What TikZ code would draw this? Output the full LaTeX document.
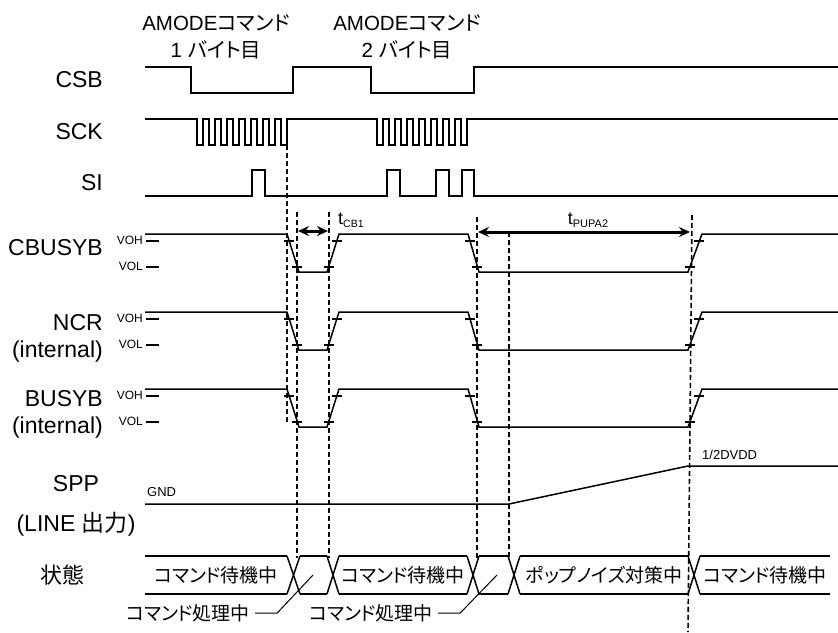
\documentclass[tikz,border=0pt]{standalone}
\usepackage{fontspec}
\setmainfont{Liberation Sans}
\newfontfamily\jp[RawFeature=+palt]{Noto Sans CJK JP}
\usepackage{tikz}
\usetikzlibrary{arrows.meta}

\begin{document}
\begin{tikzpicture}[
                x=1pt, y=-1pt,                % 1px = 1pt
                >={Stealth[length=11pt, width=10pt]},
                sig/.style={line width=1.5pt},
                guide/.style={line width=1.6pt, dash pattern=on 5pt off 3pt},
                dim/.style={<->, line width=3pt},
                lbl/.style={font=\fontsize{23}{27}\selectfont, inner sep=0pt},
                lvl/.style={font=\fontsize{12}{12}\selectfont, inner sep=0pt, anchor=east},
                jtxt/.style={font=\jp\fontsize{19}{20}\selectfont, inner sep=0pt},
                head/.style={font=\fontsize{20.5}{27}\selectfont, align=center, inner sep=0pt}
            ]
                \useasboundingbox (0,0) rectangle (838,632);

                % 見出し
                \node[head] (byte1) at (216,37) {AMODE{\jp コマンド}\\1 {\jp バイト目}};
                \node[head] (byte2) at (407,37) {AMODE{\jp コマンド}\\2 {\jp バイト目}};

                % 信号名
                \node[lbl, anchor=east] (csb) at (103,80) {CSB};
                \node[lbl, anchor=east] (sck) at (103,132) {SCK};
                \node[lbl, anchor=east] (si) at (103,183) {SI};
                \node[lbl, anchor=east] (cbusyb) at (103,248) {CBUSYB};
                \node[lbl, anchor=east, align=right] (ncr) at (103,338) {NCR\\(internal)};
                \node[lbl, anchor=east, align=right] (busyb) at (103,414) {BUSYB\\(internal)};
                \node[lbl, align=center, font=\fontsize{23}{40}\selectfont] (spp) at (76,506) {SPP\\(LINE {\jp 出力})};
                \node[lbl, font=\jp\fontsize{22}{24}\selectfont] (state) at (62,575) {状態};

                % CSB, SCK, SI
                \draw[sig] (145,67) -- (191,67) -- (191,93) -- (293,93) -- (293,67) -- (371,67)
                    -- (371,93) -- (474,93) -- (474,67) -- (838,67);
                \draw[sig] (145,119) -- (197,119)
                    \foreach \k in {1,...,8} { -- ++(0,26) -- ++(6,0) -- ++(0,-26) -- ++(6,0) }
                    -- (377,119)
                    \foreach \k in {1,...,8} { -- ++(0,26) -- ++(6,0) -- ++(0,-26) -- ++(6,0) }
                    -- (838,119);
                \draw[sig] (145,196)
                    \foreach \a/\b in {252/265, 387/400, 436/449, 462/474} { -- (\a,196) -- (\a,170) -- (\b,170) -- (\b,196) }
                    -- (838,196);

                % CBUSYB, NCR, BUSYB
                \foreach \h/\n in {234/cb, 312/nc, 389/bu} {
                    \pgfmathsetmacro\l{\h+38}
                    \draw[sig] (145,\h) -- (287,\h) -- (299,\l) -- (327,\l) -- (339,\h) -- (468,\h)
                        -- (479,\l) -- (688,\l) -- (702,\h) -- (838,\h);
                    \node[lvl] (\n voh) at (143,\h+6) {VOH};
                    \node[lvl] (\n vol) at (143,\h+32) {VOL};
                    \draw[sig] (146,\h+7) -- (159,\h+7);
                    \draw[sig] (146,\h+33) -- (159,\h+33);
                    \foreach \t in {289,337,470,699}
                        \draw[sig] (\t-5,\h+7) -- (\t+5,\h+7);
                    \foreach \t in {297,329,477,690}
                        \draw[sig] (\t-5,\h+33) -- (\t+5,\h+33);
                }

                % SPP
                \draw[sig] (145,504) -- (509,504) -- (688,466) -- (838,466);
                \node[lvl, anchor=west, font=\fontsize{13}{14}\selectfont] (gnd) at (147,492) {GND};
                \node[lvl, anchor=west, font=\fontsize{13}{14}\selectfont] (half) at (702,455) {1/2DVDD};

                % 状態
                \foreach \a/\b in {145/287, 300/327, 339/467, 479/508, 520/688, 700/830} {
                    \draw[sig] (\a,556) -- (\b,556);
                    \draw[sig] (\a,594) -- (\b,594);
                }
                \foreach \a/\b in {287/300, 327/339, 467/479, 508/520, 688/700} {
                    \draw[sig] (\a,556) -- (\b,594);
                    \draw[sig] (\a,594) -- (\b,556);
                }
                \node[jtxt] (wait1) at (216,575) {コマンド待機中};
                \node[jtxt] (wait2) at (403,575) {コマンド待機中};
                \node[jtxt] (pop) at (604,575) {ポップノイズ対策中};
                \node[jtxt] (wait3) at (765,575) {コマンド待機中};

                \node[jtxt] (proc1) at (188,613) {コマンド処理中};
                \node[jtxt] (proc2) at (371,613) {コマンド処理中};
                \coordinate (in1) at (313,575);
                \coordinate (in2) at (497,575);
                \draw[line width=1pt] (proc1.east) ++(5,0) -- ++(22,0) -- (in1);
                \draw[line width=1pt] (proc2.east) ++(5,0) -- ++(22,0) -- (in2);

                % 補助線
                \coordinate (g1a) at (287,145);  \coordinate (g1b) at (287,423);
                \coordinate (g2a) at (297,212);  \coordinate (g2b) at (297,558);
                \coordinate (g3a) at (329,212);  \coordinate (g3b) at (329,558);
                \coordinate (g4a) at (477,217);  \coordinate (g4b) at (477,558);
                \coordinate (g5a) at (509,232);  \coordinate (g5b) at (509,558);
                \coordinate (g6a) at (692,215);  \coordinate (g6b) at (688,632);
                \foreach \g in {g1,g2,g3,g4,g5,g6}
                    \draw[guide] (\g a) -- (\g b);

                % 時間
                \draw[dim] (298,231) -- (328,231);
                \draw[dim] (478,232) -- (690,232);
                \node[anchor=base west, inner sep=0pt] (tcb) at (338,224)
                    {\fontsize{18}{18}\selectfont t\raisebox{-3pt}{\fontsize{10.5}{10}\selectfont CB1}};
                \node[anchor=base, inner sep=0pt] (tpupa) at (588,224)
                    {\fontsize{18}{18}\selectfont t\raisebox{-3pt}{\fontsize{11}{11}\selectfont PUPA2}};
            \end{tikzpicture}
\end{document}
